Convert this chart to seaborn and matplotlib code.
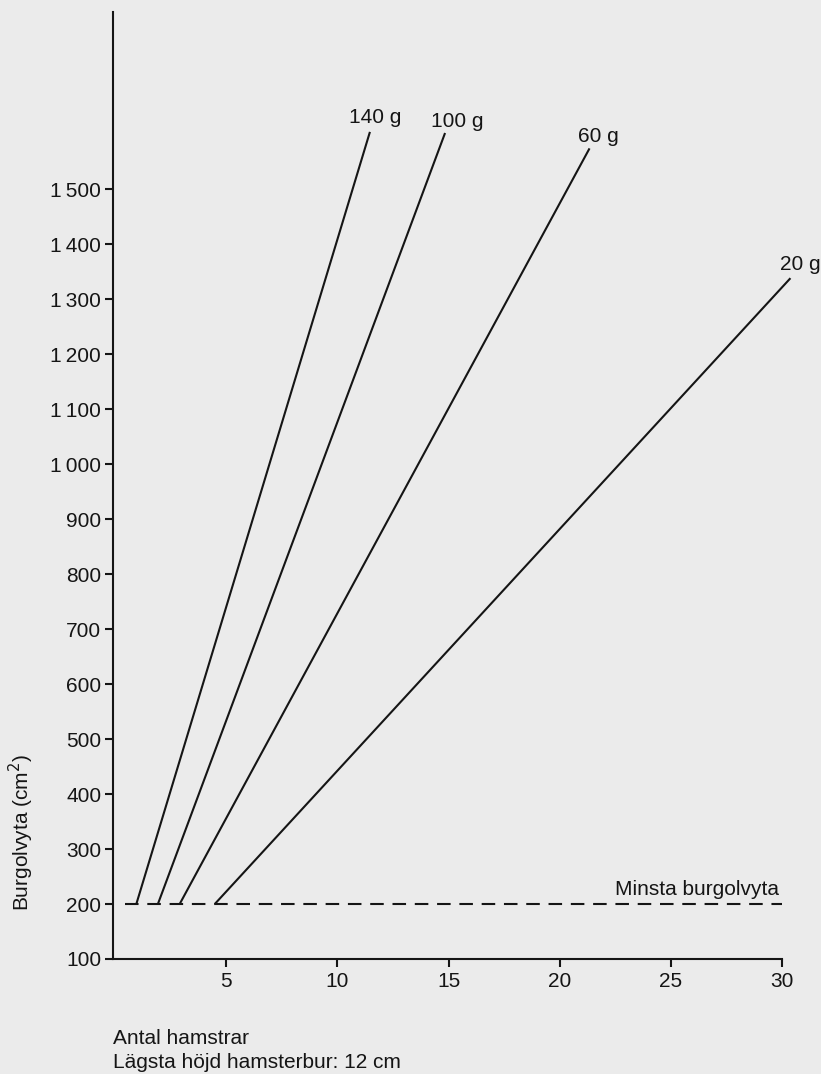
import matplotlib
matplotlib.use("Agg")
import matplotlib.pyplot as plt
import pandas as pd
import seaborn as sns

# Hamster weight classes and their floor-area lines (start at the minimum area)
weights = ["140 g", "100 g", "60 g", "20 g"]
n_start = [0.95, 1.92, 2.90, 4.48]      # number of hamsters where the line leaves 200 cm²
n_end = [11.46, 14.84, 21.34, 30.38]
area_end = [1604, 1602, 1574, 1338]
label_offsets = [(3.6, 10.2), (8.6, 8.2), (6.3, 8.4), (7.2, 9.8)]  # points

min_area = 200
min_area_span = [0.42, 30]

x_ticks = [5, 10, 15, 20, 25, 30]
y_ticks = [100, 200, 300, 400, 500, 600, 700, 800, 900, 1000,
           1100, 1200, 1300, 1400, 1500]
y_tick_labels = ["100", "200", "300", "400", "500", "600", "700", "800", "900",
                 "1\u2009000", "1\u2009100", "1\u2009200", "1\u2009300",
                 "1\u2009400", "1\u2009500"]

sns.set_theme(style="white")
plt.rcParams["font.family"] = ["Liberation Sans", "DejaVu Sans"]
ink = "#151515"
bg = "#ebebeb"
fs = 15

fig = plt.figure(figsize=(8.21, 10.74), dpi=100, facecolor=bg)
ax = fig.add_axes([113 / 821, 115 / 1074, 669 / 821, 947 / 1074])
ax.set_facecolor("none")

rows = []
for w, x0, x1, y1 in zip(weights, n_start, n_end, area_end):
    rows.append({"weight": w, "n": x0, "area": min_area})
    rows.append({"weight": w, "n": x1, "area": y1})
df = pd.DataFrame(rows)

for w in weights:
    sub = df[df["weight"] == w]
    sns.lineplot(data=sub, x="n", y="area", color=ink, lw=1.5, ax=ax,
                 clip_on=False, solid_capstyle="butt")

sns.lineplot(x=min_area_span, y=[min_area, min_area], color=ink, lw=1.5,
             ax=ax, dashes=False, clip_on=False)
ax.lines[-1].set_dashes([6.5, 4.2])

for w, x1, y1, (dx, dy) in zip(weights, n_end, area_end, label_offsets):
    ax.annotate(w, xy=(x1, y1), xytext=(dx, dy), textcoords="offset points",
                ha="center", va="center", fontsize=fs, color=ink,
                annotation_clip=False)

ax.text(29.85, 226, "Minsta burgolvyta", ha="right", va="center",
        fontsize=fs, color=ink)

ax.set_xlim(-0.1, 30)
ax.set_ylim(100, 1822)
ax.set_xticks(x_ticks)
ax.set_xticklabels([str(t) for t in x_ticks])
ax.set_yticks(y_ticks)
ax.set_yticklabels(y_tick_labels)
ax.tick_params(axis="both", direction="out", length=6, width=1.5,
               color=ink, labelcolor=ink, labelsize=fs,
               bottom=True, left=True)
ax.tick_params(axis="x", pad=3.5)
ax.tick_params(axis="y", pad=2.5)

for side in ["top", "right"]:
    ax.spines[side].set_visible(False)
for side in ["left", "bottom"]:
    ax.spines[side].set_color(ink)
    ax.spines[side].set_linewidth(1.5)

ax.set_xlabel("")
ax.set_ylabel("")
fig.text(21 / 821, 1 - 833 / 1074, "Burgolvyta (cm$^2$)", rotation=90,
         ha="center", va="center", fontsize=fs, color=ink)

fig.text(113 / 821, 1 - 1038 / 1074, "Antal hamstrar", ha="left",
         va="center", fontsize=fs, color=ink)
fig.text(113 / 821, 1 - 1063 / 1074, "Lägsta höjd hamsterbur: 12 cm",
         ha="left", va="center", fontsize=fs, color=ink)

fig.savefig("out.png", dpi=100, facecolor=bg)
